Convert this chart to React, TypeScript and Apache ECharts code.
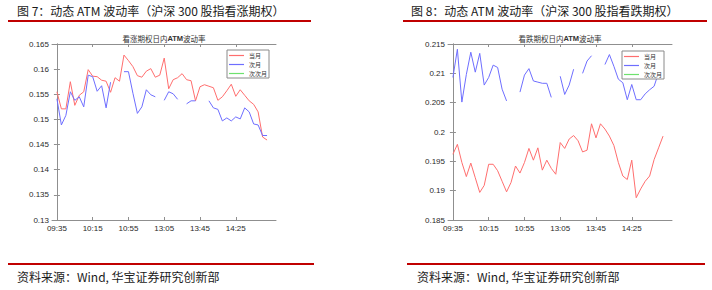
import React, { useEffect, useRef } from "react";
import * as echarts from "echarts";

const times = [
  "09:35","09:40","09:45","09:50","09:55","10:00","10:05","10:10","10:15","10:20","10:25","10:30",
  "10:35","10:40","10:45","10:50","10:55","11:00","11:05","11:10","11:15","11:20","11:25","11:30",
  "13:05","13:10","13:15","13:20","13:25","13:30","13:35","13:40","13:45","13:50","13:55","14:00",
  "14:05","14:10","14:15","14:20","14:25","14:30","14:35","14:40","14:45","14:50","14:55","15:00",
];
const tickLabels = ["09:35", "10:15", "10:55", "13:05", "13:45", "14:25"];
const seriesNames = ["当月", "次月", "次次月"];

// 看涨期权
const callNear = [
  0.1555,0.1521,0.1521,0.1575,0.1528,0.1548,0.1555,0.1599,0.1586,0.1585,0.1578,0.1576,
  0.1554,0.1583,0.1576,0.1628,0.1617,0.1605,0.1587,0.1584,0.1596,0.1601,0.1584,0.1588,
  0.1622,0.1561,0.1579,0.1583,0.1591,0.1579,0.1577,0.1537,0.1565,0.1569,0.1566,0.1563,
  0.1538,0.1545,0.1557,0.157,0.1546,0.1559,0.1548,0.1537,0.153,0.1515,0.1465,0.1459,
];
const callNext = [
  0.1541,0.1489,0.1508,0.1555,0.1538,0.1545,0.1525,0.1588,0.1585,0.1556,0.1567,0.1523,
  0.1574,null,null,0.1595,0.1595,0.1552,0.1512,0.1525,0.1559,0.1549,0.1545,null,
  0.1538,0.1555,0.1551,0.154,null,0.1531,0.1537,0.1537,null,null,0.1537,0.1523,
  0.152,0.1497,0.1503,0.1497,0.1505,0.1501,0.1523,0.1515,0.1491,0.1489,0.1468,0.1468,
];
const callFar: (number | null)[] = [];

// 看跌期权
const putNear = [
  0.1962,0.1979,0.1948,0.1924,0.1947,0.1922,0.1897,0.1909,0.1945,0.1945,0.1934,0.1916,
  0.1898,0.1914,0.1942,0.193,0.1948,0.1972,0.1952,0.1973,0.1935,0.1952,0.1938,0.1928,
  0.1982,0.1972,0.1988,0.1994,0.1985,0.1966,0.1969,0.2014,0.199,0.2014,0.2005,0.1993,
  0.1977,0.1948,0.1925,0.1919,0.1952,0.1888,0.1903,0.1916,0.1925,0.1953,0.1973,0.1993,
];
const putNext = [
  0.2093,0.2141,0.2051,0.2098,0.2136,0.2102,0.2134,0.208,0.2093,0.2114,0.211,0.2073,
  0.2053,null,null,0.2068,0.2097,0.2108,0.2087,0.2085,0.2083,0.2083,0.2059,null,
  0.2095,0.2064,0.208,0.2107,null,0.21,0.2121,0.213,null,null,0.2115,0.2132,
  0.2112,0.209,0.2084,0.2055,0.2081,0.2055,0.2055,0.2065,0.2072,0.2078,0.2101,0.2112,
];
const putFar: (number | null)[] = [];

const colors = ["#ff6e6e", "#6e6eff", "#6ee26e"];
const axisColor = "#8f8f8f";
const labelColor = "#2a2a2a";
const cjk = '"Noto Sans CJK SC", sans-serif';
const latin = '"Liberation Sans", Arial, sans-serif';

function toData(vals: (number | null)[]) {
  return vals.map((v, i) => [i, v === null ? "-" : v]);
}

export default function App() {
  const ref = useRef<HTMLDivElement>(null);
  useEffect(() => {
    if (!ref.current) return;
    const chart = echarts.init(ref.current, undefined, { renderer: "svg" });
    const tickIdx = tickLabels.map((t) => times.indexOf(t));
    const grids = [
      { left: 52, top: 44, width: 224, height: 176 },
      { left: 448, top: 44, width: 224, height: 176 },
    ];
    const yRanges = [
      [0.13, 0.165],
      [0.185, 0.215],
    ];
    const xAxis: any[] = [];
    const yAxis: any[] = [];
    grids.forEach((_, g) => {
      xAxis.push({
        type: "value",
        gridIndex: g,
        min: -1.1,
        max: 49,
        axisLine: { show: true, lineStyle: { color: axisColor, width: 1 } },
        axisTick: { show: true, inside: true, length: 3, customValues: tickIdx, lineStyle: { color: axisColor } },
        axisLabel: {
          customValues: tickIdx,
          formatter: (v: number) => times[Math.round(v)],
          fontSize: 8,
          color: labelColor,
          fontFamily: latin,
          margin: 4,
        },
        splitLine: { show: false },
      });
      xAxis.push({
        type: "value",
        gridIndex: g,
        position: "top",
        min: -1.1,
        max: 49,
        axisLine: { show: true, lineStyle: { color: axisColor, width: 1 } },
        axisTick: { show: true, inside: true, length: 3, customValues: tickIdx, lineStyle: { color: axisColor } },
        axisLabel: { show: false, customValues: tickIdx },
        splitLine: { show: false },
      });
      yAxis.push({
        type: "value",
        gridIndex: g,
        min: yRanges[g][0],
        max: yRanges[g][1],
        interval: 0.005,
        axisLine: { show: true, lineStyle: { color: axisColor, width: 1 } },
        axisTick: { show: true, inside: true, length: 3, lineStyle: { color: axisColor } },
        axisLabel: {
          formatter: (v: number) => String(parseFloat(v.toFixed(3))),
          fontSize: 8,
          color: labelColor,
          fontFamily: latin,
          margin: 3,
        },
        splitLine: { show: false },
      });
      yAxis.push({
        type: "value",
        gridIndex: g,
        position: "right",
        min: yRanges[g][0],
        max: yRanges[g][1],
        interval: 0.005,
        axisLine: { show: true, lineStyle: { color: axisColor, width: 1 } },
        axisTick: { show: true, inside: true, length: 3, lineStyle: { color: axisColor } },
        axisLabel: { show: false },
        splitLine: { show: false },
      });
    });

    const groups = [
      [callNear, callNext, callFar],
      [putNear, putNext, putFar],
    ];
    const series: any[] = [];
    groups.forEach((grp, g) => {
      grp.forEach((vals, k) => {
        series.push({
          name: seriesNames[k],
          type: "line",
          xAxisIndex: g * 2,
          yAxisIndex: g * 2,
          data: toData(vals),
          symbol: "none",
          connectNulls: false,
          color: colors[k],
          lineStyle: { color: colors[k], width: 1 },
          itemStyle: { color: colors[k] },
        });
      });
    });

    const legendBase = {
      orient: "vertical",
      data: seriesNames.map((n, k) => ({
        name: n,
        icon: "rect",
        itemStyle: { color: colors[k], opacity: 1, borderWidth: 0 },
      })),
      itemWidth: 15,
      itemHeight: 1.2,
      itemGap: 2,
      padding: [2, 2, 1, 2],
      borderColor: "#8a8a8a",
      borderWidth: 1,
      backgroundColor: "#ffffff",
      selectedMode: false,
      textStyle: { fontSize: 6, lineHeight: 7, color: "#333", fontFamily: cjk },
    };

    const subtitle = (text: string, x: number) => ({
      type: "text",
      x,
      y: 38,
      style: {
        text: `{a|${text}}{b|ATM}{a|波动率}`,
        align: "center",
        verticalAlign: "middle",
        rich: {
          a: { fontSize: 7.5, fontFamily: cjk, fill: "#333" },
          b: { fontSize: 7.5, fontFamily: latin, fontWeight: "bold", fill: "#333" },
        },
      },
    });

    const footer = (x: number) => ({
      type: "text",
      x,
      y: 276,
      style: {
        text: "资料来源：Wind, 华宝证券研究创新部",
        font: `12px ${cjk}`,
        fill: "#1a1a1a",
        verticalAlign: "middle",
      },
    });

    const option: any = {
      animation: false,
      grid: grids.map((g) => ({ ...g, containLabel: false })),
      xAxis,
      yAxis,
      series,
      legend: [
        { ...legendBase, left: 227, top: 50 },
        { ...legendBase, left: 622, top: 51 },
      ],
      graphic: [
        {
          type: "text",
          x: 17,
          y: 10,
          style: {
            text: "图 7：动态 ATM 波动率（沪深 300 股指看涨期权）",
            font: `12px ${cjk}`,
            fill: "#1a1a1a",
            verticalAlign: "middle",
          },
        },
        { type: "rect", shape: { x: 8, y: 20, width: 303, height: 2 }, style: { fill: "#c00000" } },
        {
          type: "text",
          x: 411,
          y: 10,
          style: {
            text: "图 8：动态 ATM 波动率（沪深 300 股指看跌期权）",
            font: `12px ${cjk}`,
            fill: "#1a1a1a",
            verticalAlign: "middle",
          },
        },
        { type: "rect", shape: { x: 403, y: 20, width: 304, height: 2 }, style: { fill: "#c00000" } },
        subtitle("看涨期权日内", 164),
        subtitle("看跌期权日内", 560),
        { type: "rect", shape: { x: 8, y: 263, width: 306, height: 2 }, style: { fill: "#c00000" } },
        { type: "rect", shape: { x: 407, y: 263, width: 298, height: 2 }, style: { fill: "#c00000" } },
        footer(17),
        footer(417),
      ],
    };
    chart.setOption(option);
    return () => chart.dispose();
  }, []);
  return (
    <div
      ref={ref}
      style={{ position: "absolute", left: 0, top: 0, width: 712, height: 290, background: "#fff" }}
    />
  );
}
